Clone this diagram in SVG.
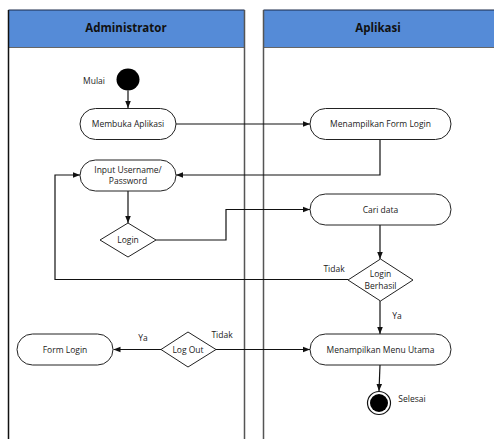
<svg xmlns="http://www.w3.org/2000/svg" width="494" height="439" viewBox="0 0 494 439">
<defs>
<style>
.hdr{fill:#558bd7;stroke:none}
.lbl{font-family:"Open Sans","Liberation Sans",sans-serif;font-size:8.5px;fill:#222;text-anchor:middle}
.ttl{font-family:"Open Sans","Liberation Sans",sans-serif;font-size:11.5px;font-weight:bold;fill:#111;text-anchor:middle}
.node{fill:#fff;stroke:#222;stroke-width:1}
.edge{fill:none;stroke:#111;stroke-width:1.2}
</style>
<marker id="ah" viewBox="0 0 10 10" refX="10" refY="5" markerWidth="7" markerHeight="7" orient="auto" markerUnits="userSpaceOnUse"><path d="M0,1 L10,5 L0,9 z" fill="#111"/></marker>
</defs>
<rect width="494" height="439" fill="#fff"/>
<g id="lanes">
<rect class="hdr" x="8.5" y="10" width="236" height="38"/>
<rect class="hdr" x="263.5" y="10" width="231" height="38"/>
<line x1="8.5" y1="10" x2="244.5" y2="10" stroke="#1a2a4a" stroke-width="1.2"/>
<line x1="263.5" y1="10" x2="494" y2="10" stroke="#1a2a4a" stroke-width="1.2"/>
<line x1="8.5" y1="47.5" x2="244.5" y2="47.5" stroke="#666" stroke-width="1.2"/>
<line x1="263.5" y1="47.5" x2="494" y2="47.5" stroke="#666" stroke-width="1.2"/>
<line x1="8.5" y1="10" x2="8.5" y2="439" stroke="#111" stroke-width="1.5"/>
<line x1="244.5" y1="10" x2="244.5" y2="439" stroke="#555" stroke-width="1.5"/>
<line x1="263.5" y1="10" x2="263.5" y2="439" stroke="#555" stroke-width="1.5"/>
<text class="ttl" x="126" y="32">Administrator</text>
<text class="ttl" x="378" y="32">Aplikasi</text>
</g>
<g id="connectors">
<path class="edge" d="M128,90.5 V108" marker-end="url(#ah)"/>
<path class="edge" d="M176,124 H310" marker-end="url(#ah)"/>
<path class="edge" d="M380,139 V175 H176" marker-end="url(#ah)"/>
<path class="edge" d="M128,191 V223" marker-end="url(#ah)"/>
<path class="edge" d="M156,240 H226 V209.5 H310" marker-end="url(#ah)"/>
<path class="edge" d="M380,225 V259" marker-end="url(#ah)"/>
<path class="edge" d="M348,279.5 H55 V175 H80" marker-end="url(#ah)"/>
<path class="edge" d="M380,301 V334" marker-end="url(#ah)"/>
<path class="edge" d="M216,349.5 H310" marker-end="url(#ah)"/>
<path class="edge" d="M161,349.5 H113.5" marker-end="url(#ah)"/>
<path class="edge" d="M380,365 L379,391" marker-end="url(#ah)"/>
<text class="lbl" x="334" y="272" style="text-anchor:middle">Tidak</text>
<text class="lbl" x="397" y="319">Ya</text>
<text class="lbl" x="222" y="338">Tidak</text>
<text class="lbl" x="143" y="341">Ya</text>
</g>
<g id="start">
<ellipse cx="128" cy="79.5" rx="11.5" ry="11" fill="#000"/>
<text class="lbl" x="94" y="84">Mulai</text>
</g>
<g id="membuka">
<rect class="node" x="80" y="108.5" width="96" height="31" rx="15.5"/>
<text class="lbl" x="128" y="127">Membuka Aplikasi</text>
</g>
<g id="formlogin-app">
<rect class="node" x="310" y="108.5" width="141" height="31" rx="15.5"/>
<text class="lbl" x="380.5" y="127">Menampilkan Form Login</text>
</g>
<g id="input">
<rect class="node" x="80" y="160" width="96" height="31" rx="15.5"/>
<text class="lbl" x="128" y="173">Input Username/</text>
<text class="lbl" x="128" y="184">Password</text>
</g>
<g id="login">
<polygon class="node" points="128,223 156,240 128,257 100,240"/>
<text class="lbl" x="128" y="243">Login</text>
</g>
<g id="cari">
<rect class="node" x="310" y="194" width="141" height="31" rx="15.5"/>
<text class="lbl" x="380.5" y="212.5">Cari data</text>
</g>
<g id="berhasil">
<polygon class="node" points="380.5,259 413,280 380.5,301 348,280"/>
<text class="lbl" x="380.5" y="277">Login</text>
<text class="lbl" x="380.5" y="289">Berhasil</text>
</g>
<g id="menu">
<rect class="node" x="310" y="334" width="141" height="31" rx="15.5"/>
<text class="lbl" x="380.5" y="352.5">Menampilkan Menu Utama</text>
</g>
<g id="logout">
<polygon class="node" points="188,332 216,349.5 188,367 161,349.5"/>
<text class="lbl" x="188" y="352.5">Log Out</text>
</g>
<g id="formlogin">
<rect class="node" x="17" y="334" width="96" height="31" rx="15.5"/>
<text class="lbl" x="65" y="352.5">Form Login</text>
</g>
<g id="end">
<circle cx="379" cy="403" r="11.5" fill="#fff" stroke="#111" stroke-width="1.2"/>
<circle cx="379" cy="403" r="9" fill="#000"/>
<text class="lbl" x="412" y="402">Selesai</text>
</g>
</svg>
